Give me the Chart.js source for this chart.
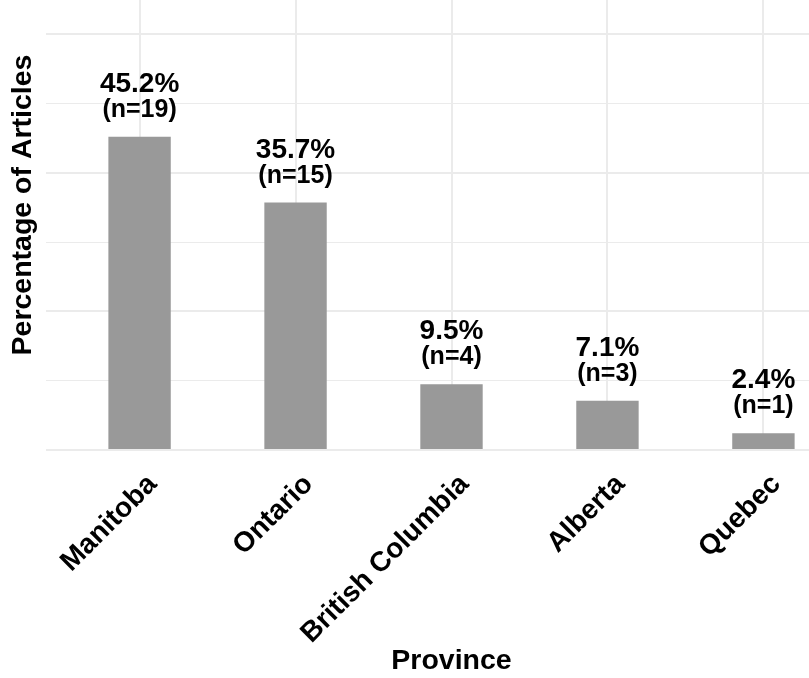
<!DOCTYPE html>
<html>
<head>
<meta charset="utf-8">
<script src="https://cdn.jsdelivr.net/npm/chart.js@4.4.0/dist/chart.umd.min.js"></script>
<style>
  html, body { margin: 0; padding: 0; background: #ffffff; overflow: hidden; width: 809px; height: 678px; }
  #wrap { position: absolute; left: 0; top: -40px; width: 870px; height: 718px; }
</style>
</head>
<body>
<div id="wrap"><canvas id="c"></canvas></div>
<script>
const categories = ["Manitoba", "Ontario", "British Columbia", "Alberta", "Quebec"];
const percentages = [45.2, 35.7, 9.5, 7.1, 2.4];
const counts = [19, 15, 4, 3, 1];
const yTicks = [0, 10, 20, 30, 40, 50, 60];
const majorY = [0, 20, 40, 60];

const FONT = "'Liberation Sans', Arial, sans-serif";

const barLabels = {
  id: 'barLabels',
  afterDatasetsDraw(chart) {
    const ctx = chart.ctx;
    const meta = chart.getDatasetMeta(0);
    ctx.save();
    ctx.fillStyle = '#000000';
    ctx.textAlign = 'center';
    ctx.textBaseline = 'alphabetic';
    meta.data.forEach((bar, i) => {
      ctx.font = "bold 28px " + FONT;
      ctx.fillText(percentages[i].toFixed(1) + '%', bar.x, bar.y - 45);
      ctx.font = "bold 25px " + FONT;
      ctx.fillText('(n=' + counts[i] + ')', bar.x, bar.y - 20);
    });
    ctx.restore();
  }
};

new Chart(document.getElementById('c'), {
  type: 'bar',
  data: {
    datasets: [{
      data: categories.map((c, i) => ({ x: i, y: percentages[i] })),
      backgroundColor: '#999999',
      borderWidth: 0,
      barPercentage: 0.4,
      categoryPercentage: 1.0
    }]
  },
  options: {
    responsive: true,
    maintainAspectRatio: false,
    animation: false,
    devicePixelRatio: 1,
    layout: { padding: { left: 0, right: 13, top: 0, bottom: 0 } },
    plugins: { legend: { display: false }, tooltip: { enabled: false } },
    scales: {
      x: {
        type: 'linear',
        offset: false,
        min: -0.6,
        max: categories.length - 0.4,
        afterBuildTicks: (scale) => { scale.ticks = categories.map((c, i) => ({ value: i })); },
        afterFit: (scale) => { scale.height = 228; scale.paddingLeft = 0; scale.paddingRight = 0; },
        grid: { color: '#ebebeb', lineWidth: 2, drawTicks: false, offset: false },
        border: { display: false },
        ticks: {
          autoSkip: false,
          maxRotation: 45,
          minRotation: 45,
          padding: 18,
          labelOffset: 13,
          color: '#000000',
          font: { family: FONT, size: 28, weight: 'bold' },
          callback: (v) => categories[v]
        },
        title: {
          display: true,
          text: 'Province',
          color: '#000000',
          font: { family: FONT, size: 28.5, weight: 'bold' },
          padding: { top: 0, bottom: 0 }
        }
      },
      y: {
        min: 0,
        max: 70.7,
        afterBuildTicks: (scale) => { scale.ticks = yTicks.map(v => ({ value: v })); },
        afterFit: (scale) => { scale.width = 46; },
        grid: {
          color: '#ebebeb',
          lineWidth: (ctx) => (ctx.tick && majorY.includes(ctx.tick.value)) ? 2 : 1,
          drawTicks: false
        },
        border: { display: false },
        ticks: { display: false },
        title: {
          display: true,
          text: 'Percentage of Articles',
          color: '#000000',
          font: { family: FONT, size: 28.5, weight: 'bold' },
          padding: { top: 6, bottom: 0 }
        }
      }
    }
  },
  plugins: [barLabels]
});
</script>
</body>
</html>
